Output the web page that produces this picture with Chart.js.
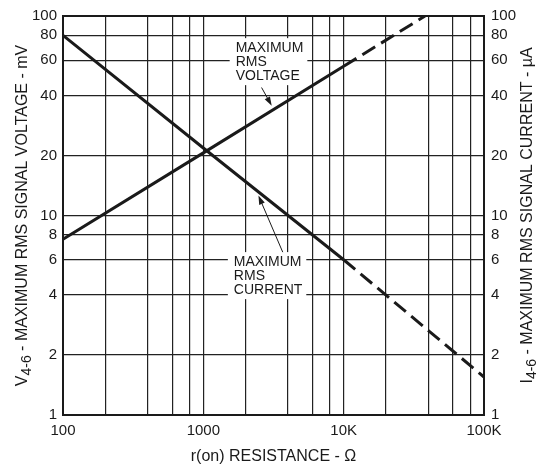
<!DOCTYPE html>
<html>
<head>
<meta charset="utf-8">
<script src="https://cdn.jsdelivr.net/npm/chart.js@4/dist/chart.umd.min.js"></script>
<style>
  html, body { margin: 0; padding: 0; background: #fff; }
  #wrap { width: 537px; height: 466px; }
</style>
</head>
<body>
<div id="wrap"><canvas id="chart" width="537" height="466"></canvas></div>
<script>
// valeurs (échelles log-log)
const voltageR = [100, 1000, 10000, 38000];
const voltageMv = [7.6, 20.6, 56, 100];
const currentR = [100, 1000, 10000, 100000];
const currentUa = [80, 21.8, 6, 1.55];

// graduations
const xTicks = [100, 200, 400, 600, 800, 1000, 2000, 4000, 6000, 8000, 10000, 20000, 40000, 60000, 80000, 100000];
const xTickLabels = ['100', '', '', '', '', '1000', '', '', '', '', '10K', '', '', '', '', '100K'];
const yTicks = [1, 2, 4, 6, 8, 10, 20, 40, 60, 80, 100];

const FONT = '"Liberation Sans", Arial, sans-serif';
const INK = '#1a1a1a';

// segments après 10K en pointillés
const dashAfter10k = ctx => ctx.p0.parsed.x >= 10000 ? [15, 7] : undefined;

// texte avec indice (V4-6, I4-6)
function richWidth(ctx, parts) {
    let w = 0;
    parts.forEach(p => {
        ctx.font = (p.sub ? '14px ' : '16px ') + FONT;
        w += ctx.measureText(p.text).width;
    });
    return w;
}
function drawRich(ctx, parts, cx, cy, angle) {
    ctx.save();
    ctx.translate(cx, cy);
    ctx.rotate(angle);
    ctx.textBaseline = 'middle';
    ctx.textAlign = 'left';
    ctx.fillStyle = INK;
    let x = -richWidth(ctx, parts) / 2;
    parts.forEach(p => {
        ctx.font = (p.sub ? '14px ' : '16px ') + FONT;
        ctx.fillText(p.text, x, p.sub ? 4 : 0);
        x += ctx.measureText(p.text).width;
    });
    ctx.restore();
}

// étiquettes des courbes, ancrées en coordonnées de données
const notes = [
    { lines: ['MAXIMUM', 'RMS', 'VOLTAGE'], x: 1700, y: 69, from: [2600, 43.8], to: [3070, 35.5] },
    { lines: ['MAXIMUM', 'RMS', 'CURRENT'], x: 1650, y: 5.84, from: [3680, 6.55], to: [2470, 12.6] },
];

function drawArrow(ctx, x1, y1, x2, y2) {
    const a = Math.atan2(y2 - y1, x2 - x1);
    ctx.strokeStyle = INK;
    ctx.fillStyle = INK;
    ctx.lineWidth = 1;
    ctx.beginPath();
    ctx.moveTo(x1, y1);
    ctx.lineTo(x2 - 7 * Math.cos(a), y2 - 7 * Math.sin(a));
    ctx.stroke();
    ctx.beginPath();
    ctx.moveTo(x2, y2);
    ctx.lineTo(x2 - 9 * Math.cos(a) + 3 * Math.sin(a), y2 - 9 * Math.sin(a) - 3 * Math.cos(a));
    ctx.lineTo(x2 - 9 * Math.cos(a) - 3 * Math.sin(a), y2 - 9 * Math.sin(a) + 3 * Math.cos(a));
    ctx.closePath();
    ctx.fill();
}

const extras = {
    id: 'extras',
    beforeDatasetsDraw(chart) {
        const { ctx, scales } = chart;
        ctx.save();
        ctx.font = '14px ' + FONT;
        notes.forEach(n => {
            const left = scales.x.getPixelForValue(n.x);
            const top = scales.y.getPixelForValue(n.y);
            const w = Math.max(...n.lines.map(l => ctx.measureText(l).width));
            ctx.fillStyle = '#fff';
            ctx.fillRect(left - 6, top - 10, w + 10, 14 * (n.lines.length - 1) + 19);
            ctx.fillStyle = INK;
            ctx.textBaseline = 'middle';
            n.lines.forEach((l, i) => ctx.fillText(l, left, top + i * 14));
        });
        ctx.restore();
    },
    afterDraw(chart) {
        const { ctx, chartArea: a, scales } = chart;
        ctx.save();
        notes.forEach(n => {
            drawArrow(ctx,
                scales.x.getPixelForValue(n.from[0]), scales.y.getPixelForValue(n.from[1]),
                scales.x.getPixelForValue(n.to[0]), scales.y.getPixelForValue(n.to[1]));
        });
        // cadre
        ctx.strokeStyle = INK;
        ctx.lineWidth = 2;
        ctx.strokeRect(a.left, a.top, a.right - a.left, a.bottom - a.top);
        // titres des axes
        const midY = (a.top + a.bottom) / 2;
        drawRich(ctx, [{ text: 'V' }, { text: '4-6', sub: true }, { text: ' - MAXIMUM RMS SIGNAL VOLTAGE - mV' }], 23, midY, -Math.PI / 2);
        drawRich(ctx, [{ text: 'I' }, { text: '4-6', sub: true }, { text: ' - MAXIMUM RMS SIGNAL CURRENT - \u00b5A' }], 528, midY, -Math.PI / 2);
        ctx.font = '16px ' + FONT;
        ctx.fillStyle = INK;
        ctx.textAlign = 'center';
        ctx.textBaseline = 'middle';
        ctx.fillText('r(on) RESISTANCE - \u03a9', (a.left + a.right) / 2, 457);
        ctx.restore();
    }
};

const yAxisBase = (pos, width) => ({
    type: 'logarithmic',
    position: pos,
    min: 1,
    max: 100,
    afterBuildTicks: axis => { axis.ticks = yTicks.map(v => ({ value: v })); },
    afterFit: scale => { scale.width = width; },
    ticks: {
        autoSkip: false,
        padding: pos === 'left' ? 6 : 7,
        color: INK,
        font: { family: FONT, size: 15 },
        callback: v => String(v),
    },
    border: { display: false },
});

new Chart(document.getElementById('chart'), {
    type: 'line',
    data: {
        datasets: [
            {
                label: 'Maximum RMS voltage',
                data: voltageR.map((r, i) => ({ x: r, y: voltageMv[i] })),
                yAxisID: 'y',
                borderColor: INK,
                borderWidth: 3,
                pointRadius: 0,
                segment: { borderDash: dashAfter10k },
            },
            {
                label: 'Maximum RMS current',
                data: currentR.map((r, i) => ({ x: r, y: currentUa[i] })),
                yAxisID: 'y2',
                borderColor: INK,
                borderWidth: 3,
                pointRadius: 0,
                segment: { borderDash: dashAfter10k },
            },
        ],
    },
    options: {
        responsive: false,
        animation: false,
        layout: { padding: { top: 15, left: 0, right: 0, bottom: 0 } },
        plugins: { legend: { display: false }, tooltip: { enabled: false } },
        scales: {
            x: {
                type: 'logarithmic',
                min: 100,
                max: 100000,
                afterBuildTicks: axis => { axis.ticks = xTicks.map(v => ({ value: v })); },
                afterFit: scale => { scale.height = 51; },
                ticks: {
                    autoSkip: false,
                    maxRotation: 0,
                    padding: 7,
                    color: INK,
                    font: { family: FONT, size: 15 },
                    callback: (v, i) => xTickLabels[i],
                },
                grid: { color: '#222', lineWidth: 1.2, drawTicks: false },
                border: { display: false },
            },
            y: Object.assign(yAxisBase('left', 63), {
                grid: { color: '#222', lineWidth: 1.2, drawTicks: false },
            }),
            y2: Object.assign(yAxisBase('right', 53), {
                grid: { display: false, drawTicks: false },
            }),
        },
    },
    plugins: [extras],
});
</script>
</body>
</html>
